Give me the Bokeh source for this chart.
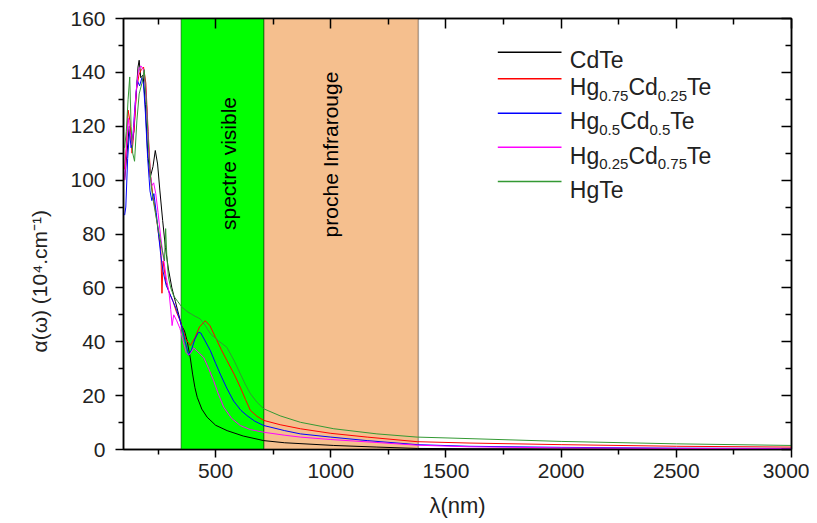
import math
from bokeh.plotting import figure
from bokeh.models import (BoxAnnotation, Label, LinearAxis, FixedTicker, Title,
                          CustomJSTickFormatter, Range1d, ColumnDataSource)
from bokeh.embed import file_html
from bokeh.resources import INLINE

# ---------------- data ----------------
cdte_wl = [105, 115, 125, 135, 145, 155, 163, 168, 175, 185, 195, 205, 216, 228, 238, 248, 258, 270,
           282, 295, 310, 325, 340, 352, 365, 377, 390, 400, 410, 420, 440, 463, 500, 550, 620, 709,
           800, 1013, 1200, 1375, 1600, 2000, 2500, 3000]
cdte_a = [100, 110, 120, 114, 118, 132, 142, 144.5, 138, 139, 128, 110, 101, 105, 111, 106, 96, 85,
          75, 67, 60, 55, 50, 46, 44, 40, 34, 28, 23, 19.4, 15, 12, 9, 7, 5, 3.3,
          2.5, 1.5, 0.9, 0.4, 0.3, 0.2, 0.15, 0.1]

hg75_wl = [105, 112, 120, 128, 137, 147, 157, 167, 177, 187, 197, 207, 217, 228, 240, 252, 262, 267,
           272, 285, 300, 315, 330, 345, 355, 370, 390, 410, 430, 455, 475, 500, 525, 549, 580, 607,
           630, 651, 680, 709, 780, 868, 1000, 1158, 1375, 1600, 2000, 2500, 3000]
hg75_a = [104, 112, 126, 122, 110, 120, 134, 139, 141, 142, 136, 118, 102, 94, 88, 80, 74, 58,
          70, 62, 58, 55, 51, 48, 45.4, 41, 38.6, 41.5, 45.5, 47.8, 46, 41.5, 37, 33, 28, 23.1,
          18.5, 14.5, 12.3, 10.8, 9.2, 7.7, 6.0, 4.6, 2.9, 2.4, 1.8, 1.2, 0.9]

hg50_wl = [105, 110, 118, 126, 133, 140, 150, 160, 170, 180, 187, 195, 205, 215, 223, 232, 242, 252,
           262, 272, 285, 300, 315, 330, 345, 355, 368, 383, 395, 410, 425, 435, 450, 477, 500, 520,
           550, 578, 610, 636, 670, 709, 800, 868, 1000, 1158, 1375, 1600, 2000, 2500, 3000]
hg50_a = [87, 90, 108, 118, 112, 115, 128, 137, 135, 138, 135.6, 125, 108, 96, 92.4, 95, 88, 80,
          72, 66, 61, 58, 55, 52, 48, 45, 40, 35, 37, 41, 43.5, 43.3, 41, 36.7, 32, 28,
          22.5, 18, 14.5, 12.6, 10.5, 8.9, 7, 5.8, 4.6, 3.3, 1.8, 1.2, 0.8, 0.5, 0.4]

hg25_wl = [105, 112, 120, 128, 137, 145, 155, 165, 176, 186, 196, 206, 216, 224, 231, 240, 250, 260,
           272, 285, 298, 305, 311, 318, 330, 345, 360, 372, 383, 393, 405, 420, 448, 470, 491, 510,
           535, 570, 607, 650, 709, 800, 868, 1000, 1200, 1375, 1600, 2000, 2500, 3000]
hg25_a = [100, 110, 123, 118, 113, 120, 133, 141, 142.4, 141, 134, 118, 102, 98, 99, 95, 88, 80,
          72, 64, 58, 52, 46, 50, 48, 45, 40, 36, 35, 36, 37.7, 36.5, 34.2, 30, 25.6, 21,
          15.7, 11.5, 8.9, 7.4, 6.4, 5.3, 4.6, 3.7, 2.6, 1.6, 1.0, 0.6, 0.4, 0.3]

hgte_wl = [105, 112, 120, 127, 133, 140, 148, 158, 168, 180, 190, 200, 210, 220, 230, 242, 255, 268,
           278, 283, 288, 295, 305, 318, 335, 354, 380, 410, 433, 455, 477, 510, 549, 580, 607, 630,
           651, 680, 709, 780, 868, 1013, 1200, 1375, 1500, 2000, 2500, 3000]
hgte_a = [112, 118, 130, 138.3, 120, 110, 107, 122, 132, 136, 141, 128, 110, 98, 92, 86, 80, 74,
          70, 82, 72, 64, 60, 57, 55, 52.8, 51, 49.5, 48.5, 46, 43, 40.5, 37.9, 33, 28.1, 24,
          20.7, 17.5, 15.1, 12.5, 10.1, 7.7, 5.8, 4.6, 4.3, 3.0, 2.1, 1.5]

series_wl = [cdte_wl, hg75_wl, hg50_wl, hg25_wl, hgte_wl]
series_a = [cdte_a, hg75_a, hg50_a, hg25_a, hgte_a]
series_colors = ["#000000", "#FF0000", "#0000FF", "#FF00FF", "#339933"]
legend_parts = [
    [("CdTe", False)],
    [("Hg", False), ("0.75", True), ("Cd", False), ("0.25", True), ("Te", False)],
    [("Hg", False), ("0.5", True), ("Cd", False), ("0.5", True), ("Te", False)],
    [("Hg", False), ("0.25", True), ("Cd", False), ("0.75", True), ("Te", False)],
    [("HgTe", False)],
]

visible_band = (350, 710)
nir_band = (710, 1380)
band_labels = ["spectre visible", "proche Infrarouge"]
x_title = "λ(nm)"
y_title = "α(ω) (10⁴.cm⁻¹)"

x_major = [500, 1000, 1500, 2000, 2500, 3000]
x_minor = [250, 750, 1250, 1750, 2250, 2750]
y_major = [0, 20, 40, 60, 80, 100, 120, 140, 160]
y_minor = [10, 30, 50, 70, 90, 110, 130, 150]

# ---------------- layout ----------------
FONT = "Liberation Sans"
FL, FT, FW, FH = 123, 18, 668, 431          # frame in canvas px (canvas starts at page 0,0)
X0, X1, Y0, Y1 = 100, 3000, 0, 160


def dx(px):
    return X0 + (px - FL) / FW * (X1 - X0)


def dy(py):
    return Y0 + (FT + FH - py) / FH * (Y1 - Y0)


p = figure(frame_width=FW, frame_height=FH, output_backend="svg", toolbar_location=None,
           x_range=Range1d(X0, X1), y_range=Range1d(Y0, Y1),
           min_border_left=FL, min_border_top=FT, min_border_right=18, min_border_bottom=70)
p.background_fill_color = "white"
p.border_fill_color = "white"
p.outline_line_color = "black"
p.outline_line_width = 1.5
p.xgrid.visible = False
p.ygrid.visible = False

xt = FixedTicker(ticks=x_major, minor_ticks=x_minor)
yt = FixedTicker(ticks=y_major, minor_ticks=y_minor)


def style_axis(ax, ticker, outward, labels=True):
    ax.ticker = ticker
    ax.axis_line_width = 1.5
    ax.major_tick_line_width = 1.5
    ax.minor_tick_line_width = 1.5
    ax.axis_line_color = "black"
    ax.major_tick_line_color = "black"
    ax.minor_tick_line_color = "black"
    if outward:
        ax.major_tick_out, ax.major_tick_in = 8, 0
        ax.minor_tick_out, ax.minor_tick_in = 5, 0
    else:
        ax.major_tick_out, ax.major_tick_in = 0, 10
        ax.minor_tick_out, ax.minor_tick_in = 0, 6
    if labels:
        ax.major_label_text_font = FONT
        ax.major_label_text_font_size = "21px"
        ax.major_label_text_color = "#222222"
        ax.axis_label_text_font = FONT
        ax.axis_label_text_font_style = "normal"
        ax.axis_label_text_color = "#222222"
    else:
        ax.formatter = CustomJSTickFormatter(code="return ''")
        ax.major_label_text_font_size = "0px"
        ax.major_label_standoff = 0


style_axis(p.xaxis[0], xt, True)
style_axis(p.yaxis[0], yt, True)
p.xaxis[0].major_label_standoff = 6
p.yaxis[0].major_label_standoff = 10
p.xaxis[0].axis_label = x_title
p.xaxis[0].axis_label_text_font_size = "22px"
p.xaxis[0].axis_label_standoff = 12

# y title as a side-panel title so that it can sit below the frame centre
p.add_layout(Title(text=y_title, align="left", offset=97, standoff=34,
                   text_font=FONT, text_font_size="21px", text_font_style="normal",
                   text_color="#222222"), "left")

top = LinearAxis()
style_axis(top, xt, False, labels=False)
p.add_layout(top, "above")
right = LinearAxis()
style_axis(right, yt, False, labels=False)
p.add_layout(right, "right")

# bands
p.add_layout(BoxAnnotation(left=visible_band[0], right=visible_band[1], fill_color="#00FF00",
                           fill_alpha=1, line_color="black", line_width=1.5, level="underlay"))
p.add_layout(BoxAnnotation(left=nir_band[0], right=nir_band[1], fill_color="#F5BF8E",
                           fill_alpha=1, line_color="black", line_width=1.5, level="underlay"))

for txt, (cx, cy) in zip(band_labels, [(228, 163), (330, 154)]):
    p.add_layout(Label(x=dx(cx), y=dy(cy), text=txt, angle=math.pi / 2, text_align="center",
                       text_baseline="middle", text_font=FONT, text_font_size="21px",
                       text_color="black"))

# curves
for wl, a, col in zip(series_wl, series_a, series_colors):
    p.line(wl, a, line_color=col, line_width=1)

# legend: key lines + texts with subscripts (positions)
row_line = [51.7, 78.3, 112.7, 146.7, 181.0]
row_base = [59.3, 86.7, 120.7, 155.0, 189.3]
KEY_X0, KEY_X1, TEXT_X = 497.3, 561.0, 569.3
ADV = {'H': 722, 'g': 556, 'C': 722, 'd': 556, 'T': 611, 'e': 556, '.': 278}
MAIN, SUB = 23, 15

keys = ColumnDataSource(dict(
    x0=[dx(KEY_X0)] * len(row_line), x1=[dx(KEY_X1)] * len(row_line),
    y=[dy(r) for r in row_line], color=series_colors))
p.segment(x0="x0", x1="x1", y0="y", y1="y", line_color="color", line_width=1.5, source=keys)

for i in range(len(legend_parts)):
    xpos = TEXT_X
    for piece, is_sub in legend_parts[i]:
        size = SUB if is_sub else MAIN
        base = row_base[i] + (8.3 if is_sub else 0)
        p.add_layout(Label(x=dx(xpos), y=dy(base), text=piece, text_align="left",
                           text_baseline="alphabetic", text_font=FONT,
                           text_font_size=f"{size}px", text_color="#222222"))
        xpos += sum(ADV.get(ch, 556) for ch in piece) / 1000 * size

open("out.html", "w").write(file_html(p, INLINE))
